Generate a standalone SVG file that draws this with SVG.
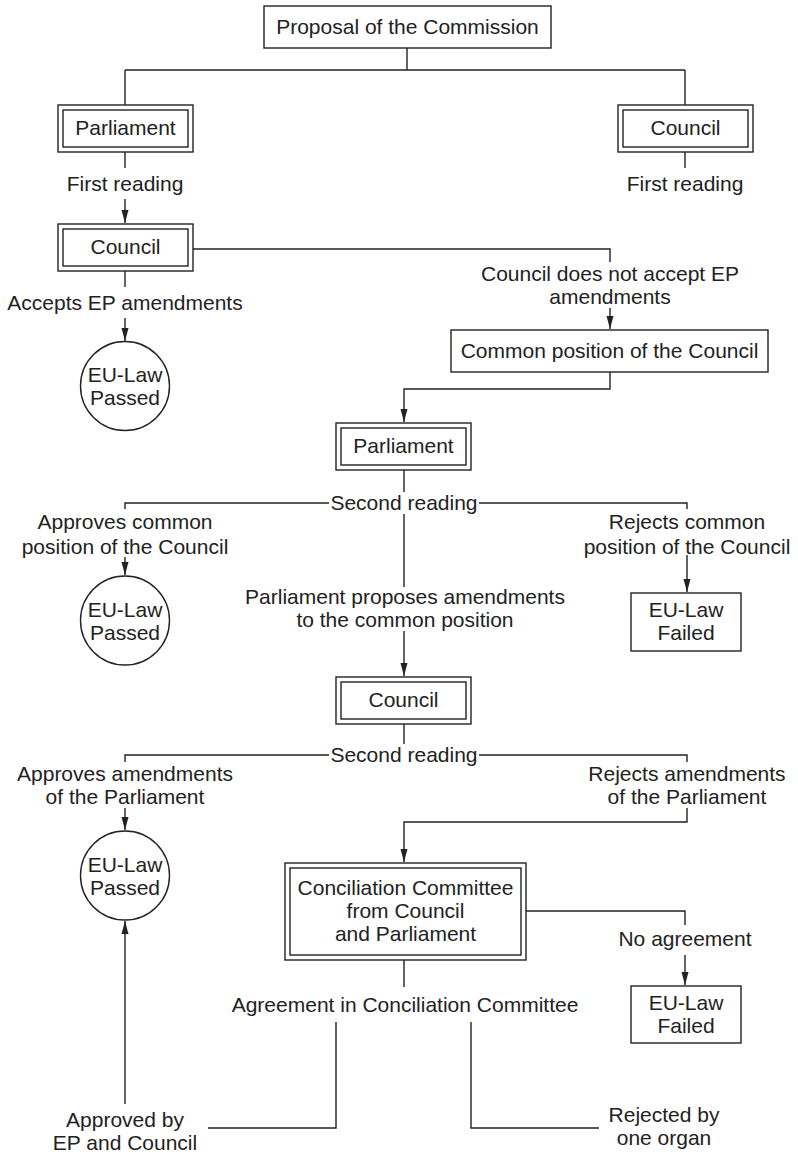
<svg xmlns="http://www.w3.org/2000/svg" width="798" height="1157" viewBox="0 0 798 1157">
<defs>
<style>
.box{fill:#fff;stroke:#222;stroke-width:1.4}
.c{fill:none;stroke:#222;stroke-width:1.4}
text{font-family:"Liberation Sans",Arial,sans-serif;font-size:21px;fill:#222;text-anchor:middle}
</style>
<marker id="ah" markerUnits="userSpaceOnUse" markerWidth="8" markerHeight="14" refX="3.5" refY="13" orient="auto-start-reverse" viewBox="0 0 8 14">
<path d="M0,0 L7,0 L3.5,13 Z" fill="#222" transform="rotate(0)"/>
</marker>
<marker id="arr" markerUnits="userSpaceOnUse" markerWidth="14" markerHeight="8" refX="13" refY="4" orient="auto" viewBox="0 0 14 8">
<path d="M0,0.5 L13,4 L0,7.5 Z" fill="#222"/>
</marker>
</defs>
<rect width="798" height="1157" fill="#fff"/>
<g id="connectors">
<path class="c" d="M407,48 V70 M125,70 H685 M125,70 V105 M685,70 V105"/>
<path class="c" d="M125,152 V168"/>
<path class="c" d="M125,199 V223" marker-end="url(#arr)"/>
<path class="c" d="M685,152 V168"/>
<path class="c" d="M193,249 H610 V262"/>
<path class="c" d="M125,271 V287"/>
<path class="c" d="M125,318 V341" marker-end="url(#arr)"/>
<path class="c" d="M610,308 V329" marker-end="url(#arr)"/>
<path class="c" d="M610,372 V389 H404 V422" marker-end="url(#arr)"/>
<path class="c" d="M404,470 V492"/>
<path class="c" d="M125,509 V503 H329 M479,503 H687 V509"/>
<path class="c" d="M404,514 V587"/>
<path class="c" d="M125,557 V575" marker-end="url(#arr)"/>
<path class="c" d="M687,555 V592" marker-end="url(#arr)"/>
<path class="c" d="M404,631 V676" marker-end="url(#arr)"/>
<path class="c" d="M404,724 V744"/>
<path class="c" d="M125,762 V755 H329 M479,755 H687 V762"/>
<path class="c" d="M125,808 V830" marker-end="url(#arr)"/>
<path class="c" d="M687,808 V822 H404 V862" marker-end="url(#arr)"/>
<path class="c" d="M526,911 H685 V925"/>
<path class="c" d="M685,955 V985" marker-end="url(#arr)"/>
<path class="c" d="M404,960 V987"/>
<path class="c" d="M336,1022 V1128 H208"/>
<path class="c" d="M471,1022 V1128 H599"/>
<path class="c" d="M125,1104 V921" marker-end="url(#arr)"/>
</g>
<g id="labels">
<text x="125" y="191">First reading</text>
<text x="685" y="191">First reading</text>
<text x="125" y="310">Accepts EP amendments</text>
<text x="610" y="281">Council does not accept EP</text>
<text x="610" y="304">amendments</text>
<text x="404" y="510">Second reading</text>
<text x="125" y="529">Approves common</text>
<text x="125" y="554">position of the Council</text>
<text x="687" y="529">Rejects common</text>
<text x="687" y="554">position of the Council</text>
<text x="405" y="604">Parliament proposes amendments</text>
<text x="405" y="627">to the common position</text>
<text x="404" y="762">Second reading</text>
<text x="125" y="781">Approves amendments</text>
<text x="125" y="804">of the Parliament</text>
<text x="687" y="781">Rejects amendments</text>
<text x="687" y="804">of the Parliament</text>
<text x="685" y="946">No agreement</text>
<text x="405" y="1012">Agreement in Conciliation Committee</text>
<text x="125" y="1127">Approved by</text>
<text x="125" y="1150">EP and Council</text>
<text x="664" y="1122">Rejected by</text>
<text x="664" y="1145">one organ</text>
</g>
<g id="proposal">
<rect class="box" x="264" y="6" width="287" height="42"/>
<text x="407.5" y="34">Proposal of the Commission</text>
</g>
<g id="parliament1">
<rect class="box" x="58" y="105" width="135" height="47"/>
<rect class="box" x="63" y="110" width="125" height="37"/>
<text x="125.5" y="135">Parliament</text>
</g>
<g id="council1">
<rect class="box" x="618" y="105" width="135" height="47"/>
<rect class="box" x="623" y="110" width="125" height="37"/>
<text x="685.5" y="135">Council</text>
</g>
<g id="council2">
<rect class="box" x="58" y="224" width="135" height="47"/>
<rect class="box" x="63" y="229" width="125" height="37"/>
<text x="125.5" y="254">Council</text>
</g>
<g id="passed1">
<circle class="box" cx="125" cy="386" r="44.5"/>
<text x="125" y="382">EU-Law</text>
<text x="125" y="405">Passed</text>
</g>
<g id="common-position">
<rect class="box" x="451" y="330" width="317" height="42"/>
<text x="609.5" y="358">Common position of the Council</text>
</g>
<g id="parliament2">
<rect class="box" x="336" y="423" width="135" height="47"/>
<rect class="box" x="341" y="428" width="125" height="37"/>
<text x="403.5" y="453">Parliament</text>
</g>
<g id="passed2">
<circle class="box" cx="125" cy="620.5" r="44.5"/>
<text x="125" y="617">EU-Law</text>
<text x="125" y="640">Passed</text>
</g>
<g id="failed1">
<rect class="box" x="631" y="593" width="110" height="58"/>
<text x="686" y="617">EU-Law</text>
<text x="686" y="640">Failed</text>
</g>
<g id="council3">
<rect class="box" x="336" y="677" width="135" height="47"/>
<rect class="box" x="341" y="682" width="125" height="37"/>
<text x="403.5" y="707">Council</text>
</g>
<g id="passed3">
<circle class="box" cx="125" cy="875.5" r="44.5"/>
<text x="125" y="872">EU-Law</text>
<text x="125" y="895">Passed</text>
</g>
<g id="conciliation">
<rect class="box" x="285" y="863" width="241" height="97"/>
<rect class="box" x="290" y="868" width="231" height="87"/>
<text x="405.5" y="895">Conciliation Committee</text>
<text x="405.5" y="918">from Council</text>
<text x="405.5" y="941">and Parliament</text>
</g>
<g id="failed2">
<rect class="box" x="631" y="986" width="110" height="57"/>
<text x="686" y="1010">EU-Law</text>
<text x="686" y="1033">Failed</text>
</g>
</svg>
